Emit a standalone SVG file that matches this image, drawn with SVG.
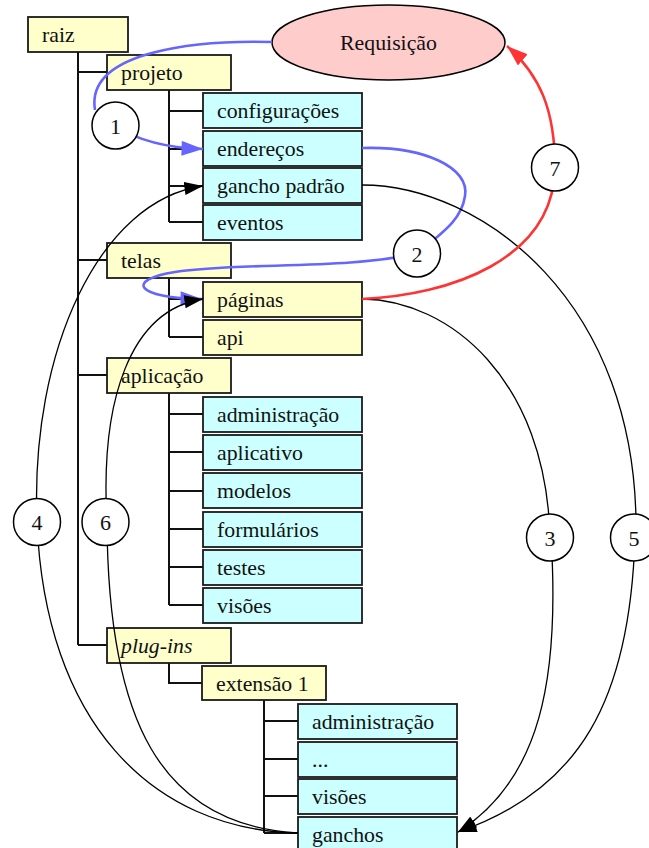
<svg xmlns="http://www.w3.org/2000/svg" width="649" height="848" viewBox="0 0 649 848">
  <style>
    .box rect { stroke: #1a1a1a; stroke-width: 1.8; }
    .dir rect { fill: #ffffcc; }
    .leaf rect { fill: #ccffff; }
    text { font-family: "Liberation Serif", "Times New Roman", serif; font-size: 21.8px; fill: #111; }
    .tree { stroke: #111; stroke-width: 2; fill: none; }
    .flow { fill: none; stroke: #000; stroke-width: 1.3; }
    .blue { fill: none; stroke: #6666ff; stroke-width: 2.6; }
    .red { fill: none; stroke: #ff3333; stroke-width: 2.6; }
    .step circle { fill: #fff; stroke: #000; stroke-width: 1.5; }
    .step text { font-size: 22px; text-anchor: middle; }
  </style>
  <defs>
    <marker id="arrow-black" viewBox="0 0 20 14" refX="20" refY="7" markerWidth="19" markerHeight="13" markerUnits="userSpaceOnUse" orient="auto">
      <path d="M0,0 L20,7 L0,14 z" fill="#000"/>
    </marker>
    <marker id="arrow-blue" viewBox="0 0 20 14" refX="20" refY="7" markerWidth="22" markerHeight="15" markerUnits="userSpaceOnUse" orient="auto">
      <path d="M0,0 L20,7 L0,14 z" fill="#6666ff"/>
    </marker>
    <marker id="arrow-red" viewBox="0 0 20 14" refX="20" refY="7" markerWidth="21" markerHeight="15" markerUnits="userSpaceOnUse" orient="auto">
      <path d="M0,0 L20,7 L0,14 z" fill="#ff3333"/>
    </marker>
  </defs>

  <rect width="649" height="848" fill="#fff"/>

  <!-- directory tree lines -->
  <g id="tree-lines" class="tree">
    <path d="M78,52 V645 M78,72 H107 M78,260 H107 M78,375 H107 M78,645 H107"/>
    <path d="M169,90 V222 M169,111 H203 M169,149 H203 M169,186 H203 M169,222 H203"/>
    <path d="M169,278 V337 M169,299 H203 M169,337 H203"/>
    <path d="M169,393 V605 M169,414 H203 M169,452 H203 M169,491 H203 M169,529 H203 M169,567 H203 M169,605 H203"/>
    <path d="M169,663 V683 H202"/>
    <path d="M264,700 V833 M264,721 H298 M264,759 H298 M264,796 H298 M264,833 H298"/>
  </g>

  <!-- directories -->
  <g id="raiz" class="box dir"><rect x="28" y="17" width="100" height="35"/><text x="42" y="42">raiz</text></g>
  <g id="projeto" class="box dir"><rect x="107" y="55" width="124" height="35"/><text x="121" y="80">projeto</text></g>
  <g id="configuracoes" class="box leaf"><rect x="203" y="93" width="159" height="35"/><text x="217" y="118">configurações</text></g>
  <g id="enderecos" class="box leaf"><rect x="203" y="131" width="159" height="35"/><text x="217" y="156">endereços</text></g>
  <g id="gancho-padrao" class="box leaf"><rect x="203" y="168" width="159" height="35"/><text x="217" y="193">gancho padrão</text></g>
  <g id="eventos" class="box leaf"><rect x="203" y="205" width="159" height="35"/><text x="217" y="230">eventos</text></g>
  <g id="telas" class="box dir"><rect x="107" y="243" width="124" height="35"/><text x="121" y="268">telas</text></g>
  <g id="paginas" class="box dir"><rect x="203" y="282" width="159" height="35"/><text x="217" y="307">páginas</text></g>
  <g id="api" class="box dir"><rect x="203" y="320" width="159" height="35"/><text x="217" y="345">api</text></g>
  <g id="aplicacao" class="box dir"><rect x="107" y="358" width="124" height="35"/><text x="121" y="383">aplicação</text></g>
  <g id="app-administracao" class="box leaf"><rect x="203" y="397" width="159" height="35"/><text x="217" y="422">administração</text></g>
  <g id="app-aplicativo" class="box leaf"><rect x="203" y="435" width="159" height="35"/><text x="217" y="460">aplicativo</text></g>
  <g id="app-modelos" class="box leaf"><rect x="203" y="473" width="159" height="35"/><text x="217" y="498">modelos</text></g>
  <g id="app-formularios" class="box leaf"><rect x="203" y="512" width="159" height="35"/><text x="217" y="537">formulários</text></g>
  <g id="app-testes" class="box leaf"><rect x="203" y="550" width="159" height="35"/><text x="217" y="575">testes</text></g>
  <g id="app-visoes" class="box leaf"><rect x="203" y="588" width="159" height="35"/><text x="217" y="613">visões</text></g>
  <g id="plug-ins" class="box dir"><rect x="107" y="628" width="124" height="35"/><text x="121" y="653" font-style="italic">plug-ins</text></g>
  <g id="extensao-1" class="box dir"><rect x="202" y="666" width="124" height="34"/><text x="216" y="691">extensão 1</text></g>
  <g id="ext-administracao" class="box leaf"><rect x="298" y="704" width="159" height="35"/><text x="312" y="729">administração</text></g>
  <g id="ext-etc" class="box leaf"><rect x="298" y="742" width="159" height="35"/><text x="312" y="767">...</text></g>
  <g id="ext-visoes" class="box leaf"><rect x="298" y="779" width="159" height="35"/><text x="312" y="804">visões</text></g>
  <g id="ext-ganchos" class="box leaf"><rect x="298" y="817" width="159" height="35"/><text x="312" y="842">ganchos</text></g>

  <!-- request -->
  <g id="requisicao">
    <ellipse cx="388.5" cy="42.5" rx="116.5" ry="37.5" fill="#ffcccc" stroke="#000" stroke-width="1.5"/>
    <text x="388.5" y="50" text-anchor="middle">Requisição</text>
  </g>

  <!-- request flow -->
  <g id="connectors">
    <!-- 1: request to url config -->
    <path class="blue" d="M272,42 C200,40 85,50 95,110"/>
    <path class="blue" d="M115,126 C140,142 170,148 203,149" marker-end="url(#arrow-blue)"/>
    <!-- 2: url config to page -->
    <path class="blue" d="M362,148 C425,146 470,168 465,196 C462,216 450,228 417,253"/>
    <path class="blue" d="M417,253 C350,270 240,262 175,272 C125,280 135,298 202,299" marker-end="url(#arrow-blue)"/>
    <!-- 3: page to plug-in hooks -->
    <path class="flow" d="M362,299 C450,300 546,380 550,537"/>
    <path class="flow" d="M551,537 C560,680 540,780 458,832" marker-end="url(#arrow-black)"/>
    <!-- 4: default hook to plug-in hooks -->
    <path class="flow" d="M37,522 C30,350 100,200 203,186" marker-end="url(#arrow-black)"/>
    <path class="flow" d="M37,522 C45,720 150,830 298,833"/>
    <!-- 5: default hook to plug-in hooks -->
    <path class="flow" d="M362,185 C480,185 640,300 636,537"/>
    <path class="flow" d="M635,537 C630,700 580,790 458,832" marker-end="url(#arrow-black)"/>
    <!-- 6: plug-in hooks to page -->
    <path class="flow" d="M107,522 C100,400 130,310 203,299" marker-end="url(#arrow-black)"/>
    <path class="flow" d="M107,522 C108,720 160,825 298,833"/>
    <!-- 7: page back to request -->
    <path class="red" d="M362,299 C450,295 553,260 555,168"/>
    <path class="red" d="M555,168 C555,110 540,75 507,46" marker-end="url(#arrow-red)"/>
  </g>

  <!-- step numbers -->
  <g id="step-1" class="step"><circle cx="115.5" cy="125.5" r="23.5"/><text x="115.5" y="133.5">1</text></g>
  <g id="step-2" class="step"><circle cx="417" cy="253.5" r="23.5"/><text x="417" y="261.5">2</text></g>
  <g id="step-3" class="step"><circle cx="550" cy="537.5" r="23.5"/><text x="550" y="545.5">3</text></g>
  <g id="step-4" class="step"><circle cx="37" cy="522" r="23.5"/><text x="37" y="530">4</text></g>
  <g id="step-5" class="step"><circle cx="634" cy="537.5" r="23.5"/><text x="634" y="545.5">5</text></g>
  <g id="step-6" class="step"><circle cx="105.5" cy="522" r="23.5"/><text x="105.5" y="530">6</text></g>
  <g id="step-7" class="step"><circle cx="555" cy="167.5" r="23.5"/><text x="555" y="175.5">7</text></g>
</svg>
